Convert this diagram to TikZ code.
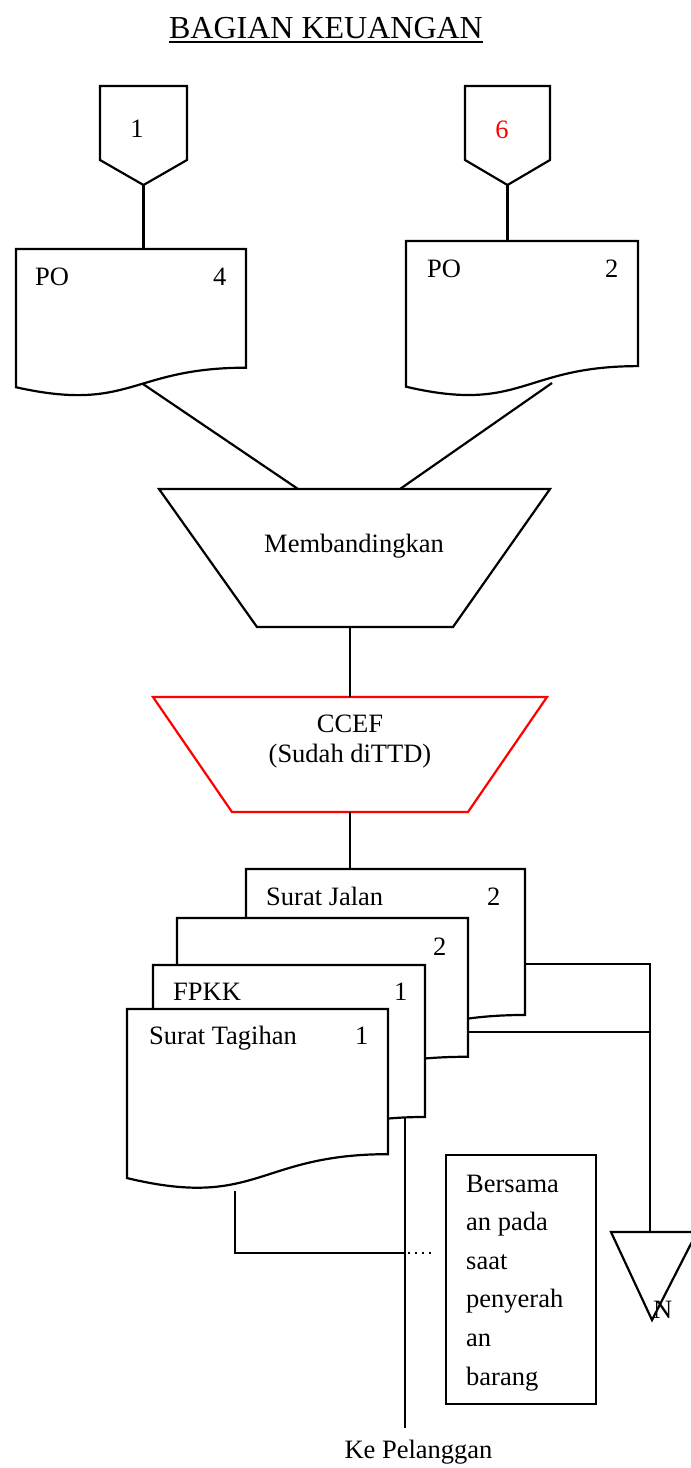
\documentclass[tikz,border=0pt]{standalone}
\usepackage{fontspec}
\setmainfont{Liberation Serif}
% document symbol: [extra style]{left}{top}{right}{height}, wavy lower edge
\newcommand{\flowdoc}[5][]{%
  \draw[docshape,#1] (#2,#3) -- (#4,#3) -- (#4,{#3+0.802*#5})
    .. controls ({(#2+#4)/2},{#3+0.802*#5}) and ({(#2+#4)/2},{#3+1.1075*#5})
    .. (#2,{#3+0.934*#5}) -- cycle;}
\begin{document}
\begin{tikzpicture}[x=1pt,y=-1pt,
  flow/.style={line width=2.2pt, line join=miter},
  docshape/.style={flow, fill=white},
  txt/.style={inner sep=0pt, font=\fontsize{26.5}{30}\selectfont},
  titletxt/.style={inner sep=0pt, font=\fontsize{32}{36}\selectfont},
  dotline/.style={line width=2.6pt, dash pattern=on 2.4pt off 4.6pt}
]
\useasboundingbox (0,0) rectangle (691,1468);

% heading
\node[titletxt, anchor=base] (title) at (326,38) {BAGIAN KEUANGAN};
\draw[line width=1.8pt] ([yshift=-4pt]title.base west) -- ([yshift=-4pt]title.base east);

% off-page connectors
\draw[flow] (100,86) -- (187,86) -- (187,160) -- (143.5,185) -- (100,160) -- cycle;
\coordinate (op1) at (143.5,185);
\node[txt, anchor=base] (op1-label) at (137,137) {1};
\draw[flow] (465,86) -- (550,86) -- (550,160) -- (507.5,185) -- (465,160) -- cycle;
\coordinate (op6) at (507.5,185);
\node[txt, anchor=base, text=red] (op6-label) at (502,138) {6};

% purchase orders
\flowdoc{16}{249}{246}{148}
\node[txt, anchor=base west] (po1-name) at (35,285) {PO};
\node[txt, anchor=base west] (po1-copy) at (213,285) {4};
\coordinate (po1-in) at (143.5,249);
\coordinate (po1-out) at (143,384);

\flowdoc{406}{241}{638}{156}
\node[txt, anchor=base west] (po2-name) at (427,277) {PO};
\node[txt, anchor=base west] (po2-copy) at (605,277) {2};
\coordinate (po2-in) at (507.5,241);
\coordinate (po2-out) at (552,383);

\draw[flow] (op1) -- (po1-in);
\draw[flow] (op6) -- (po2-in);

% manual comparison
\draw[flow] (159,489) -- (550,489) -- (453,627) -- (257,627) -- cycle;
\node[txt, anchor=base] (compare) at (354,552) {Membandingkan};
\coordinate (cmp-in1) at (298,489);
\coordinate (cmp-in2) at (400,489);
\coordinate (cmp-out) at (350,627);
\draw[flow] (po1-out) -- (cmp-in1);
\draw[flow] (po2-out) -- (cmp-in2);

% signing CCEF
\draw[flow, draw=red] (153,697) -- (547,697) -- (468,812) -- (232,812) -- cycle;
\node[txt, anchor=base] (ccef) at (350,732)
  {\parbox[t]{260pt}{\centering CCEF\\(Sudah diTTD)}};
\coordinate (ccef-in) at (350,697);
\coordinate (ccef-out) at (350,812);
\draw[flow] (cmp-out) -- (ccef-in);

% output documents
\flowdoc{246}{869}{525}{182}
\node[txt, anchor=base west] (sj-name) at (266,905) {Surat Jalan};
\node[txt, anchor=base west] (sj-copy) at (487,905) {2};
\flowdoc{177}{918}{468}{173}
\node[txt, anchor=base west] (blank-copy) at (433,955) {2};
\flowdoc{153}{965}{425}{189.5}
\node[txt, anchor=base west] (fpkk-name) at (173,1000) {FPKK};
\node[txt, anchor=base west] (fpkk-copy) at (394,1000) {1};
\flowdoc{127}{1009}{388}{181}
\node[txt, anchor=base west] (st-name) at (149,1044) {Surat Tagihan};
\node[txt, anchor=base west] (st-copy) at (355,1044) {1};

\coordinate (sj-in) at (350,869);
\draw[flow] (ccef-out) -- (sj-in);

% filing
\coordinate (sj-out) at (525,964);
\coordinate (blank-out) at (468,1032);
\coordinate (bend) at (650,964);
\coordinate (join) at (650,1032);
\coordinate (store-in) at (650,1232);
\draw[flow] (sj-out) -- (bend) -- (store-in);
\draw[flow] (blank-out) -- (join);
\draw[flow] (611,1232) -- (697,1232) -- (652,1320) -- cycle;
\node[txt, anchor=base west] (store) at (653,1318) {N};

% to the customer
\coordinate (fpkk-out) at (405,1118);
\coordinate (customer) at (405,1428);
\draw[flow] (fpkk-out) -- (customer);
\node[txt, anchor=base] (to-customer) at (418.5,1458) {Ke Pelanggan};

\coordinate (st-out) at (235,1191);
\coordinate (st-bend) at (235,1253);
\coordinate (st-join) at (405,1253);
\coordinate (note-link) at (433,1253);
\draw[flow] (st-out) -- (st-bend) -- (st-join);
\draw[dotline] ([xshift=3pt]st-join) -- (note-link);

% annotation
\node[flow, draw, anchor=north west, minimum width=150pt, minimum height=249pt, inner sep=0pt] (note) at (445,1154) {};
\node[txt, anchor=base west] (note-text) at (466,1192)
  {\parbox[t]{125pt}{\fontsize{26.5}{38.6}\selectfont\raggedright Bersama\\an pada\\saat\\penyerah\\an\\barang}};
\end{tikzpicture}
\end{document}
